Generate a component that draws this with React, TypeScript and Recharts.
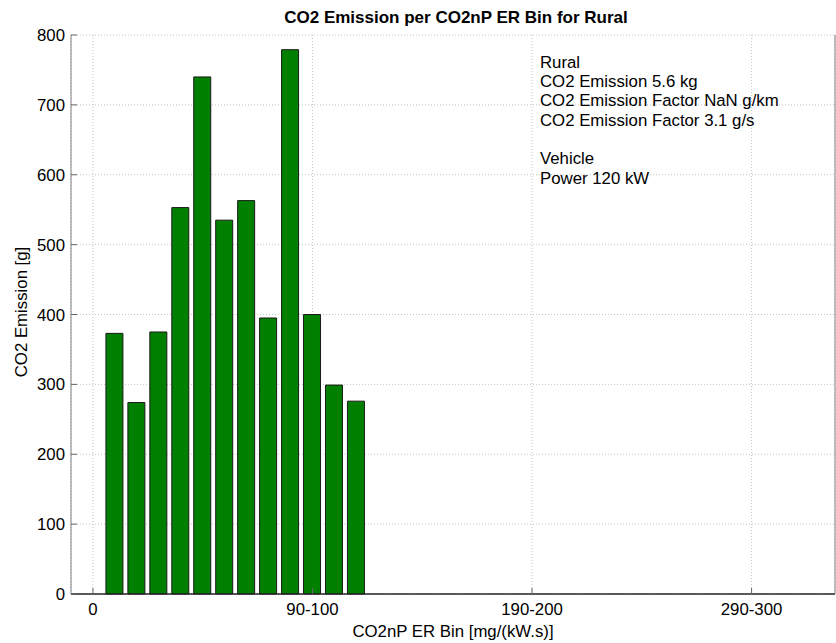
import { BarChart, Bar, XAxis, YAxis, CartesianGrid, Customized } from "recharts";

const bins = [1, 2, 3, 4, 5, 6, 7, 8, 9, 10, 11, 12];
const emissions = [373, 274, 375, 553, 740, 535, 563, 395, 779, 400, 299, 276];
const xTicks = [0, 10, 20, 30];
const xTickLabels = ["0", "90-100", "190-200", "290-300"];
const yTicks = [0, 100, 200, 300, 400, 500, 600, 700, 800];
const infoLines = [
  "Rural",
  "CO2 Emission 5.6 kg",
  "CO2 Emission Factor NaN g/km",
  "CO2 Emission Factor 3.1 g/s",
  "",
  "Vehicle",
  "Power 120 kW",
];

const data = bins.map((bin, i) => ({ bin, co2: emissions[i] }));

const FONT = "'Liberation Sans', Arial, Helvetica, sans-serif";
const FS = 16.8;
const TICK = 6;

function BottomTick({ x, y, payload }: any) {
  const idx = xTicks.indexOf(payload.value);
  return (
    <g>
      <line x1={x} x2={x} y1={y} y2={y - TICK} stroke="#666" />
      <text x={x} y={y + 21} textAnchor="middle" fontSize={FS} fontFamily={FONT} fill="#000">
        {idx >= 0 ? xTickLabels[idx] : payload.value}
      </text>
    </g>
  );
}

function TopTick({ x, y }: any) {
  return <line x1={x} x2={x} y1={y} y2={y + TICK} stroke="#666" />;
}

function LeftTick({ x, y, payload }: any) {
  return (
    <g>
      <line x1={x} x2={x + TICK} y1={y} y2={y} stroke="#666" />
      <text x={x - 6} y={y} dy="0.36em" textAnchor="end" fontSize={FS} fontFamily={FONT} fill="#000">
        {payload.value}
      </text>
    </g>
  );
}

function RightTick({ x, y }: any) {
  return <line x1={x} x2={x - TICK} y1={y} y2={y} stroke="#666" />;
}

function Texts() {
  return (
    <g fontFamily={FONT} fill="#000">
      <text x={456} y={23} textAnchor="middle" fontSize={17} fontWeight="bold">
        CO2 Emission per CO2nP ER Bin for Rural
      </text>
      <text x={453} y={637} textAnchor="middle" fontSize={FS}>
        CO2nP ER Bin [mg/(kW.s)]
      </text>
      <text
        x={21}
        y={312}
        dy="0.36em"
        textAnchor="middle"
        fontSize={FS}
        transform="rotate(-90, 21, 312)"
      >
        CO2 Emission [g]
      </text>
      {infoLines.map((line, i) => (
        <text key={i} x={540} y={67.7 + i * 19.3} fontSize={FS}>
          {line}
        </text>
      ))}
    </g>
  );
}

export default function App() {
  return (
    <div style={{ position: "absolute", left: 0, top: 0, width: 836, height: 643, background: "#fff" }}>
      <BarChart width={836} height={643} data={data} margin={{ top: 35, right: 0, left: 0, bottom: 0 }}>
        <CartesianGrid stroke="#c4c4c4" strokeDasharray="1 2" />
        <XAxis
          dataKey="bin"
          type="number"
          domain={[-1, 33.8]}
          allowDataOverflow
          ticks={xTicks}
          interval={0}
          height={49}
          tickSize={0}
          tickMargin={0}
          tickLine={false}
          tick={<BottomTick />}
          axisLine={{ stroke: "#262626", strokeWidth: 1.5 }}
        />
        <XAxis
          xAxisId="top"
          orientation="top"
          dataKey="bin"
          type="number"
          domain={[-1, 33.8]}
          allowDataOverflow
          ticks={xTicks}
          interval={0}
          height={0}
          tickSize={0}
          tickMargin={0}
          tickLine={false}
          tick={<TopTick />}
          axisLine={{ stroke: "#808080" }}
        />
        <YAxis
          domain={[0, 800]}
          ticks={yTicks}
          interval={0}
          width={71}
          tickSize={0}
          tickMargin={0}
          tickLine={false}
          tick={<LeftTick />}
          axisLine={{ stroke: "#808080" }}
        />
        <YAxis
          yAxisId="right"
          orientation="right"
          domain={[0, 800]}
          ticks={yTicks}
          interval={0}
          width={1}
          tickSize={0}
          tickMargin={0}
          tickLine={false}
          tick={<RightTick />}
          axisLine={{ stroke: "#808080" }}
        />
        <Bar dataKey="co2" fill="#007f00" stroke="#1a1a1a" strokeWidth={1} barSize={17} isAnimationActive={false} />
        <Customized component={Texts} />
      </BarChart>
    </div>
  );
}
